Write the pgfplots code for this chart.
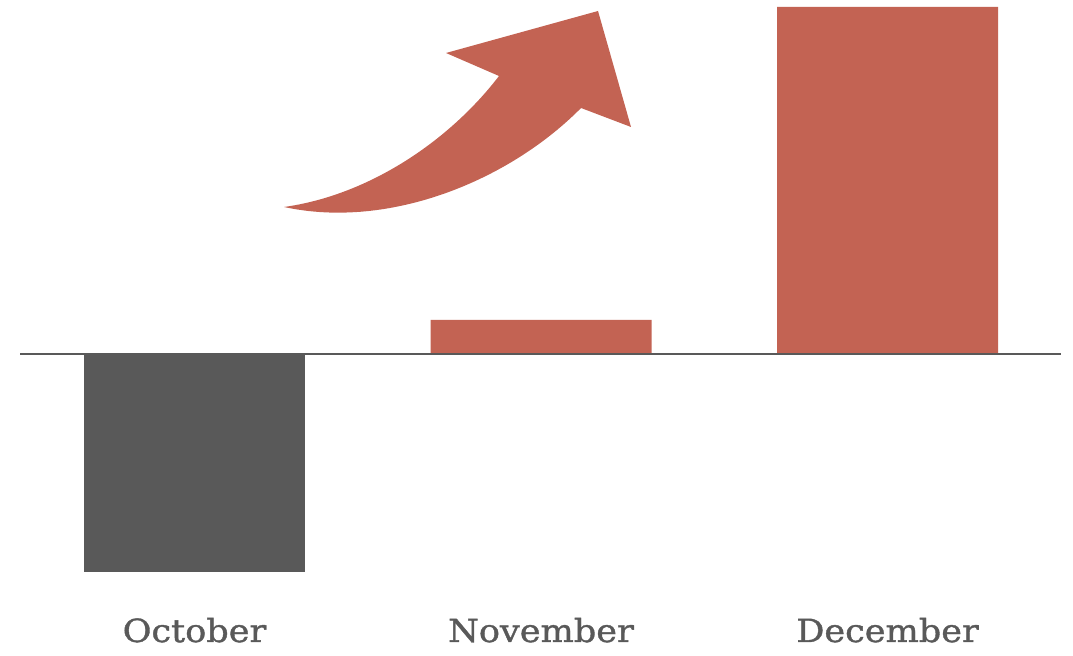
\documentclass[border=0pt]{standalone}
\usepackage{pgfplots}
\pgfplotsset{compat=1.18}
\usepackage{fontspec}
\setmainfont{DejaVu Serif}
\newfontfamily\labelfont[FakeStretch=1.1,FakeBold=1.2]{DejaVu Serif}
\definecolor{barred}{RGB}{195,99,83}
\definecolor{bargray}{RGB}{89,89,89}
\begin{document}
\begin{tikzpicture}[x=1bp,y=1bp]
\useasboundingbox (0,0) rectangle (1073,656);
\begin{axis}[
  at={(20bp,56bp)}, anchor=south west,
  width=1041bp, height=600bp, scale only axis,
  xmin=20, xmax=1061, ymin=-246, ymax=354,
  axis line style={draw=none},
  ytick=\empty,
  xtick={194.5,541,887.5},
  xticklabels={October,November,December},
  major tick length=0pt,
  xticklabel style={anchor=base, inner sep=0pt, yshift=-42bp, font=\labelfont\fontsize{32}{34}\selectfont, text=bargray},
  clip=false,
]
\addplot[ybar, bar width=221, fill=bargray, draw=none] coordinates {(194.5,-218)};
\addplot[ybar, bar width=221, fill=barred, draw=none] coordinates {(541,34) (887.5,347)};
\draw[bargray, line width=1.5bp] (axis cs:20,0) -- (axis cs:1061,0);
\fill[barred] (axis cs:284,147)
  .. controls (axis cs:370,159) and (axis cs:450,214) .. (axis cs:499,278)
  -- (axis cs:446,301) -- (axis cs:598,343) -- (axis cs:631,227) -- (axis cs:581,246)
  .. controls (axis cs:510,174) and (axis cs:390,124) .. (axis cs:284,147) -- cycle;
\end{axis}
\end{tikzpicture}
\end{document}
